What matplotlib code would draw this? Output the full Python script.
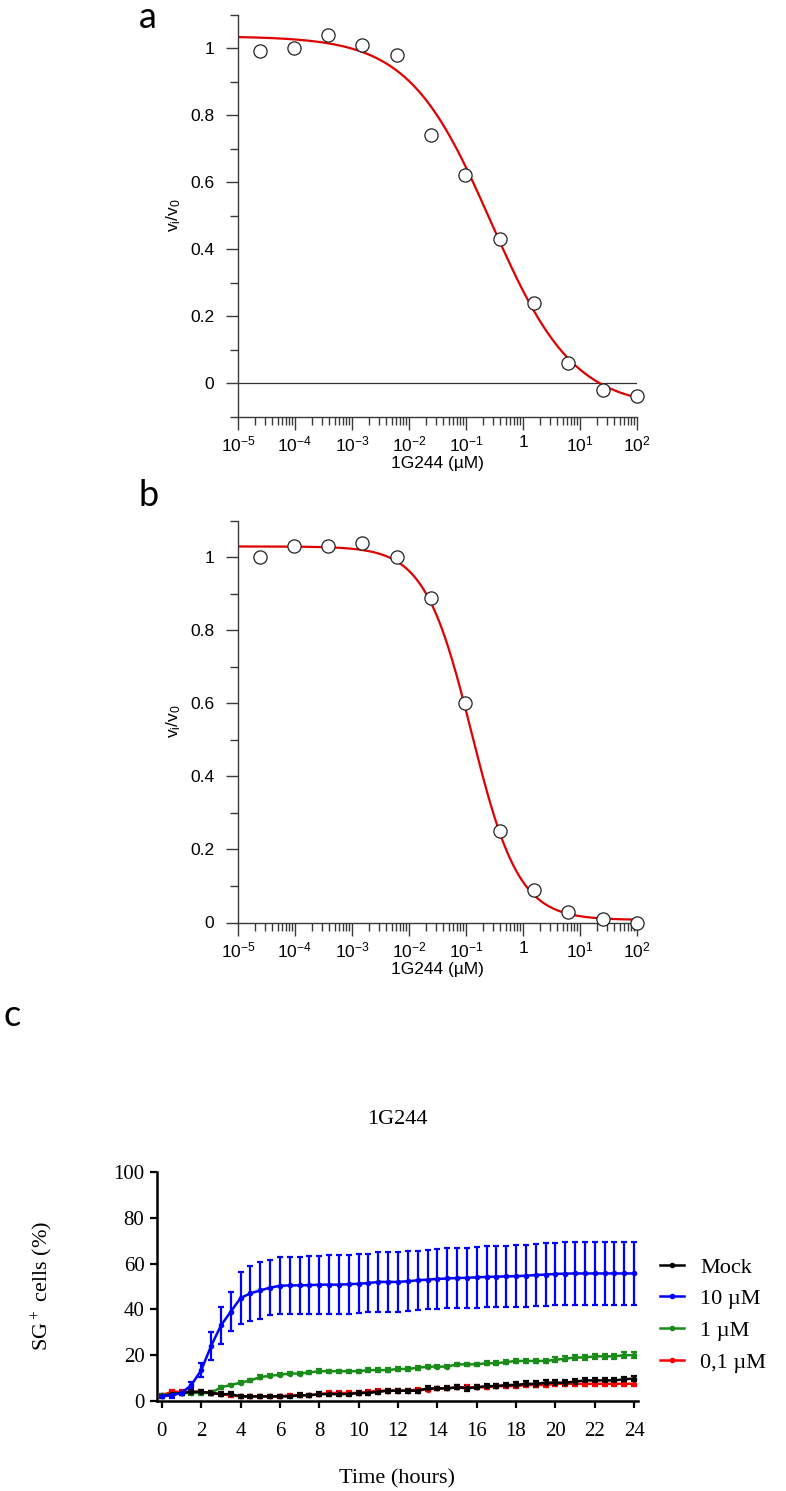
import numpy as np
import matplotlib
matplotlib.use("Agg")
import matplotlib.pyplot as plt
from matplotlib.ticker import LogLocator, NullFormatter
from matplotlib.lines import Line2D

plt.rcParams['mathtext.fontset'] = 'custom'
plt.rcParams['mathtext.rm'] = 'Liberation Sans'

# panels a and b: dose response of 1G244
conc = [2.4e-5, 9.5e-5, 3.8e-4, 1.5e-3, 6.1e-3, 0.0244, 0.098, 0.39, 1.56, 6.25, 25, 100]
vi_a = [0.99, 1.00, 1.04, 1.01, 0.98, 0.74, 0.62, 0.43, 0.24, 0.06, -0.02, -0.04]
vi_b = [1.00, 1.03, 1.03, 1.04, 1.00, 0.89, 0.60, 0.25, 0.09, 0.03, 0.01, 0.00]

# fitted 4-parameter logistic (top, bottom, log IC50, hill)
fit_a = (1.035, -0.075, -0.56, 0.60)
fit_b = (1.030, 0.007, -0.90, 1.05)

xtick_pos = [1e-5, 1e-4, 1e-3, 1e-2, 1e-1, 1, 10, 100]
xtick_lab = [r'$\mathregular{10^{-5}}$', r'$\mathregular{10^{-4}}$', r'$\mathregular{10^{-3}}$',
             r'$\mathregular{10^{-2}}$', r'$\mathregular{10^{-1}}$', '1',
             r'$\mathregular{10^{1}}$', r'$\mathregular{10^{2}}$']

# panel c: SG+ cells over time
hours = np.arange(0, 24.5, 0.5)
mock = [2, 3, 3.5, 4, 4, 3.5, 3, 3, 2, 2, 2, 2, 2, 2, 2.5, 2.5, 3, 3, 3, 3, 3.5, 3.5, 4, 4.5, 4.5,
        4.5, 4.5, 5.5, 5.5, 5.5, 6, 5.5, 6, 6.5, 6.5, 7, 7, 7.5, 7.5, 8, 8, 8, 8.5, 9, 9, 9, 9, 9.5, 9.8]
mock_sd = [0.6, 0.8, 0.7, 0.8, 0.7, 0.8, 0.8, 0.9, 0.7, 0.7, 0.6, 0.7, 0.7, 0.7, 0.8, 0.7, 0.8, 0.7, 0.8, 0.7,
           0.8, 0.9, 0.8, 0.8, 0.8, 0.8, 0.9, 0.9, 0.8, 0.9, 0.9, 1.0, 0.9, 0.9, 1.0, 1.0, 1.1, 1.1, 1.2, 1.1,
           1.2, 1.1, 1.2, 1.2, 1.1, 1.2, 1.2, 1.1, 1.0]
um10 = [2, 2.5, 3.5, 7, 13.5, 24, 33, 39, 45, 47, 48.3, 49.5, 50.3, 50.5, 50.5, 50.6, 50.8, 50.8, 50.8, 51,
        51.2, 51.5, 52, 52, 52, 52.3, 52.7, 53, 53.3, 53.5, 53.7, 53.8, 54, 54.2, 54.3, 54.4, 54.5, 54.7, 55,
        55.2, 55.5, 55.6, 55.7, 55.7, 55.7, 55.7, 55.7, 55.7, 55.7]
um10_sd = [0.5, 1, 1, 1.5, 3, 6, 8, 8.5, 11.5, 12, 12.3, 12.1, 12.5, 12.5, 12.5, 12.7, 12.7, 12.8, 12.8, 12.8,
           12.8, 12.8, 13, 13, 13, 13, 13, 13, 13.1, 13.1, 13.2, 13.2, 13.3, 13.3, 13.4, 13.4, 13.5, 13.5, 13.6,
           13.6, 13.7, 13.7, 13.8, 13.8, 13.8, 13.8, 13.8, 13.8, 13.8]
um1 = [2.5, 3, 3.5, 3.5, 3.5, 3.5, 6, 7, 8, 9, 10.5, 11, 11.5, 12, 12, 12.5, 13, 13, 13, 13, 13, 13.5,
       13.5, 13.5, 14, 14, 14.5, 15, 15, 15, 16, 16, 16, 16.5, 16.5, 17, 17.5, 17.5, 17.5, 17.5, 18, 18.5,
       19, 19, 19.5, 19.5, 19.5, 20, 20]
um1_sd = [0.6, 0.7, 0.7, 0.8, 0.7, 0.8, 0.7, 0.6, 0.6, 0.7, 0.8, 0.7, 0.7, 0.6, 0.7, 0.7, 0.8, 0.7, 0.7, 0.6,
          0.7, 0.8, 0.8, 0.8, 0.7, 0.7, 0.8, 0.8, 0.7, 0.7, 0.8, 0.8, 0.8, 0.9, 0.9, 0.9, 1.0, 1.0, 0.9, 0.9,
          1.1, 1.2, 1.3, 1.3, 1.0, 1.0, 1.1, 1.3, 1.3]
um01 = [2.5, 4, 4, 4, 4, 3.5, 3, 2.5, 2, 2, 2, 2, 2, 2.5, 2.5, 2.5, 3, 3.5, 3.5, 3.5, 3.5, 4, 4.5, 4.5, 4.5,
        4.5, 5, 5, 5.5, 5.5, 6, 6, 6, 6, 6.5, 6.5, 6.5, 7, 7, 7, 7.5, 7.5, 7.5, 7.5, 7.5, 7.5, 7.5, 7.5, 7.5]
um01_sd = [0.7, 1.0, 0.9, 0.9, 1.0, 0.9, 0.8, 0.9, 0.7, 0.7, 0.6, 0.6, 0.7, 0.7, 0.6, 0.6, 0.7, 0.8, 0.8, 0.7,
           0.7, 0.8, 0.8, 0.8, 0.7, 0.7, 0.8, 0.8, 0.7, 0.7, 0.9, 0.9, 0.8, 0.8, 0.9, 0.9, 1.0, 1.0, 0.9, 0.9,
           1.0, 1.0, 1.1, 1.1, 1.0, 1.0, 1.1, 1.1, 1.1]

series_names = ['Mock', '10 µM', '1 µM', '0,1 µM']
series_colors = ['black', '#0000ff', '#1a8c1a', '#ff0000']

fig = plt.figure(figsize=(7.86, 14.91), dpi=100)
W, H = 786.0, 1491.0


def logistic(x, p):
    top, bottom, logic, hill = p
    return bottom + (top - bottom) / (1 + 10 ** ((np.log10(x) - logic) * hill))


def dose_panel(rect, yvals, fit, ylo, label_y):
    ax = fig.add_axes(rect)
    xs = np.logspace(-5, 2, 400)
    ax.plot(xs, logistic(xs, fit), color='#e00000', lw=1.6, zorder=2)
    ax.plot(conc, yvals, 'o', ms=9.5, mfc='white', mec='#222222', mew=0.9, zorder=3, clip_on=False)
    ax.set_xscale('log')
    ax.set_xlim(1e-5, 100)
    ax.set_ylim(ylo, 1.1)
    for s in ['top', 'right']:
        ax.spines[s].set_visible(False)
    for s in ['left', 'bottom']:
        ax.spines[s].set_color('#3a3a3a')
        ax.spines[s].set_linewidth(1.0)
    ax.set_xticks(xtick_pos)
    ax.set_xticklabels(xtick_lab)
    ax.xaxis.set_minor_locator(LogLocator(base=10, subs=range(2, 10), numticks=20))
    ax.xaxis.set_minor_formatter(NullFormatter())
    ax.set_yticks([0, 0.2, 0.4, 0.6, 0.8, 1.0])
    ax.set_yticklabels(['0', '0.2', '0.4', '0.6', '0.8', '1'])
    minors = [v for v in [-0.1, 0.1, 0.3, 0.5, 0.7, 0.9, 1.1] if v >= ylo - 1e-9]
    ax.set_yticks(minors, minor=True)
    ax.tick_params(axis='y', which='major', length=9, width=1.0, color='#3a3a3a', pad=8, labelsize=12.5)
    ax.tick_params(axis='y', which='minor', length=6, width=1.0, color='#3a3a3a')
    ax.tick_params(axis='x', which='major', length=9, width=1.0, color='#3a3a3a', pad=4, labelsize=12.5)
    ax.tick_params(axis='x', which='minor', length=6, width=1.0, color='#3a3a3a')
    for lab in ax.get_xticklabels() + ax.get_yticklabels():
        lab.set_fontfamily('Liberation Sans')
    ax.set_xlabel('1G244 (µM)', fontsize=12.5, family='Liberation Sans', labelpad=1)
    fig.text(174 / W, 1 - label_y / H, r'$\mathregular{v_i/v_0}$', rotation=90, fontsize=12.5,
             family='Liberation Sans', ha='center', va='center')
    return ax


ax_a = dose_panel([238 / W, 1 - 416.5 / H, 399 / W, 402 / H], vi_a, fit_a, -0.1, 215)
ax_a.axhline(0, color='#333333', lw=0.9, zorder=1)
ax_b = dose_panel([238 / W, 1 - 922.5 / H, 399 / W, 401.6 / H], vi_b, fit_b, 0.0, 721)

fig.text(148 / W, 1 - 28 / H, 'a', fontsize=26, family='Lato', ha='center', va='baseline')
fig.text(149 / W, 1 - 506 / H, 'b', fontsize=26, family='Lato', ha='center', va='baseline')
fig.text(12 / W, 1 - 1026 / H, 'c', fontsize=26, family='Lato', ha='center', va='baseline')

# panel c
ax_c = fig.add_axes([157 / W, 1 - 1401 / H, 481 / W, 229 / H])
order = [3, 2, 0, 1]
means = [mock, um10, um1, um01]
sds = [mock_sd, um10_sd, um1_sd, um01_sd]
for i in order:
    ax_c.errorbar(hours, means[i], yerr=sds[i], color=series_colors[i], lw=1.8, marker='o', ms=3,
                  elinewidth=1.6, capsize=2.4, capthick=1.6, clip_on=False)
ax_c.set_xlim(-0.25, 24.2)
ax_c.set_ylim(0, 100)
for s in ['top', 'right']:
    ax_c.spines[s].set_visible(False)
for s in ['left', 'bottom']:
    ax_c.spines[s].set_linewidth(1.8)
ax_c.set_xticks(range(0, 25, 2))
ax_c.set_yticks(range(0, 101, 20))
ax_c.tick_params(axis='x', length=5, width=1.6, pad=10, labelsize=15)
ax_c.tick_params(axis='y', length=5, width=1.6, pad=4, labelsize=15)
for lab in ax_c.get_xticklabels() + ax_c.get_yticklabels():
    lab.set_fontfamily('Liberation Serif')
fig.text(397 / W, 1 - 1119 / H, '1G244', fontsize=16, family='Liberation Serif', ha='center', va='center')
fig.text(397 / W, 1 - 1479 / H, 'Time (hours)', fontsize=16, family='Liberation Serif', ha='center', va='center')
fig.text(42 / W, 1 - 1286 / H, r'SG$\mathregular{^+}$ cells (%)', rotation=90, fontsize=16,
         family='Liberation Serif', ha='center', va='center')

handles = [Line2D([], [], color=c, marker='o', ms=3, lw=1.8) for c in series_colors]
leg = ax_c.legend(handles, series_names, loc='upper left', bbox_to_anchor=(660 / W, 1 - 1257 / H),
                  bbox_transform=fig.transFigure, frameon=False, fontsize=16, handlelength=1.1,
                  handletextpad=0.7, labelspacing=0.5, borderpad=0, borderaxespad=0)
for t in leg.get_texts():
    t.set_fontfamily('Liberation Serif')

fig.savefig('out.png', dpi=100)
